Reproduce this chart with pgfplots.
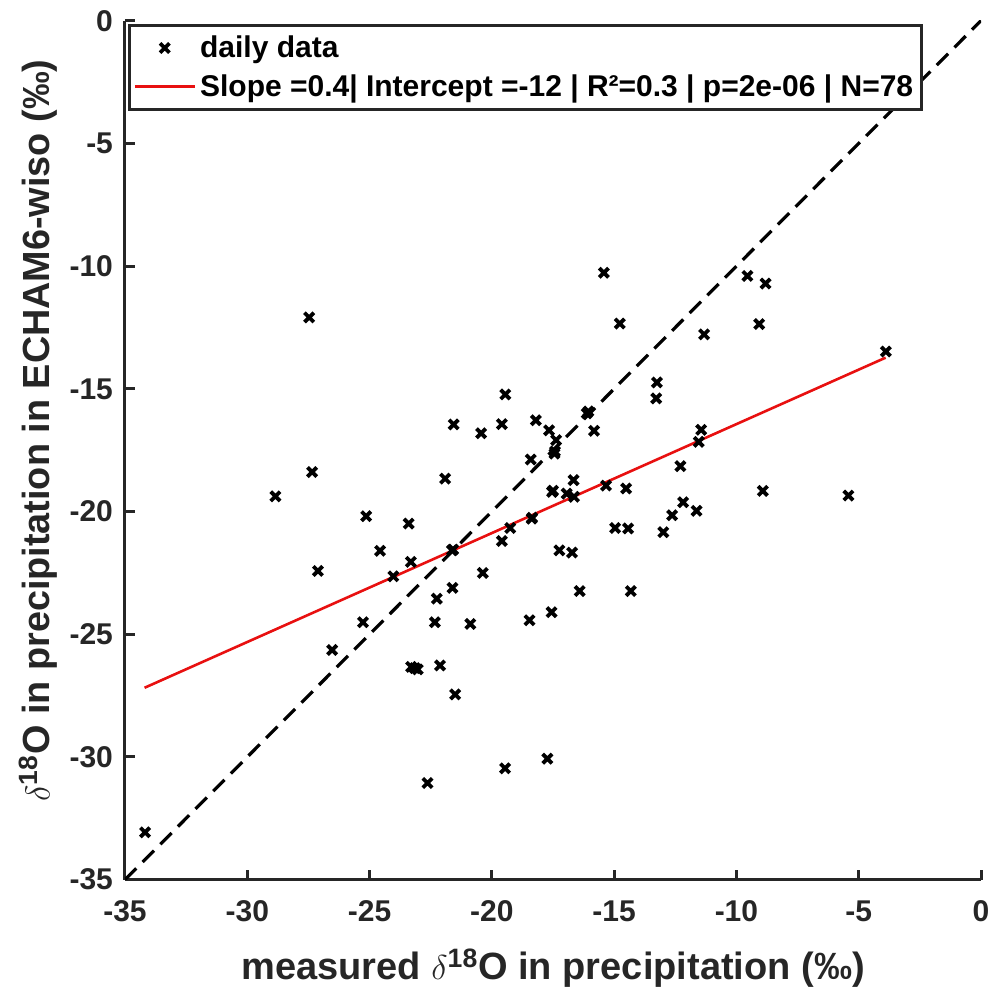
\documentclass[border=0pt]{standalone}
\usepackage{pgfplots}
\pgfplotsset{compat=1.18}
\usepackage{fontspec}
\setmainfont{Liberation Sans}
\definecolor{mgray}{RGB}{38,38,38}
\definecolor{mred}{RGB}{232,16,16}

\pgfplotstableread{
x y
-27.47 -12.09
-19.45 -15.23
-21.56 -16.45
-20.44 -16.81
-19.59 -16.44
-18.20 -16.28
-17.66 -16.69
-17.37 -17.09
-17.44 -17.64
-18.41 -17.88
-27.35 -18.39
-21.91 -18.66
-28.85 -19.38
-17.54 -19.20
-16.94 -19.27
-25.14 -20.19
-23.40 -20.49
-18.37 -20.29
-19.25 -20.67
-19.59 -21.20
-24.57 -21.60
-21.63 -21.58
-17.24 -21.58
-23.31 -22.05
-27.11 -22.42
-24.03 -22.64
-20.37 -22.50
-21.61 -23.11
-22.25 -23.55
-25.27 -24.51
-22.33 -24.51
-20.88 -24.58
-18.46 -24.43
-17.56 -24.10
-26.53 -25.64
-23.30 -26.33
-23.03 -26.43
-22.12 -26.27
-21.50 -27.45
-22.63 -31.06
-19.46 -30.46
-17.73 -30.07
-34.18 -33.07
-13.25 -14.74
-13.28 -15.39
-16.12 -16.00
-15.82 -16.71
-11.44 -16.67
-11.54 -17.16
-12.29 -18.15
-16.66 -18.72
-16.64 -19.40
-15.33 -18.94
-14.51 -19.06
-12.18 -19.62
-12.63 -20.15
-11.63 -19.97
-12.99 -20.84
-14.96 -20.67
-14.43 -20.69
-16.72 -21.67
-16.41 -23.24
-14.32 -23.24
-15.42 -10.27
-9.55 -10.40
-8.81 -10.71
-14.77 -12.34
-9.07 -12.36
-11.32 -12.78
-3.89 -13.48
-8.92 -19.16
-5.42 -19.35
-16.05 -15.92
-17.42 -17.55
-18.35 -20.25
-23.15 -26.38
-17.50 -19.15
-21.58 -21.55
}\dailydata

\begin{document}
\begin{tikzpicture}
\begin{axis}[
  scale only axis,
  width=428pt, height=429.5pt,
  xmin=-35, xmax=0, ymin=-35, ymax=0,
  axis lines=left,
  axis line style={-, line width=1.5pt, draw=mgray},
  xtick={-35,-30,...,0}, ytick={-35,-30,...,0},
  tick align=inside,
  major tick length=5pt,
  tick style={line width=1.5pt, draw=mgray},
  /pgf/number format/assume math mode=true,
  ticklabel style={font=\fontsize{15}{18}\selectfont\bfseries, text=mgray},
  xticklabel style={yshift=-7pt},
  yticklabel style={xshift=-2.5pt},
  xlabel={measured $\delta$\textsuperscript{18}O in precipitation (‰)},
  ylabel={$\delta$\textsuperscript{18}O in precipitation in ECHAM6-wiso (‰)},
  xlabel style={at={(axis description cs:0.5,-0.1164)}, anchor=base, font=\fontsize{19}{22}\selectfont\bfseries, text=mgray},
  ylabel style={at={(axis description cs:-0.0880,0.523)}, anchor=base, font=\fontsize{18.9}{22}\selectfont\bfseries, text=mgray},
  legend style={at={(axis description cs:0.0035,0.996)}, anchor=north west,
    draw=mgray, line width=1.5pt, fill=white,
    font=\fontsize{15}{18}\selectfont\bfseries,
    inner xsep=2pt, inner ysep=3pt, row sep=3pt,
    cells={anchor=west}},
  legend image code/.code={\draw[mark repeat=2,mark phase=2,#1] plot coordinates {(0pt,0pt) (15pt,0pt) (30pt,0pt)};},
  clip=true,
]
\addplot[black, line width=1.6pt, dash pattern=on 8pt off 4.5pt, forget plot] coordinates {(-35,-35) (0,0)};
\addplot[only marks, mark=x, mark size=3.3pt, black, mark options={line width=1.9pt}] table {\dailydata};
\addlegendentry{daily data}
\addplot[mred, line width=1.3pt, mark=none] coordinates {(-34.2,-27.18) (-3.9,-13.73)};
\addlegendentry{Slope =0.4| Intercept =-12 | R²=0.3 | p=2e-06 | N=78}
\coordinate (sw) at (rel axis cs:0,0);
\coordinate (ne) at (rel axis cs:1,1);
\end{axis}
\pgfresetboundingbox
\path[use as bounding box] ([xshift=-62.5pt,yshift=-57pt]sw) rectangle ([xshift=7pt,yshift=10.35pt]ne);
\end{tikzpicture}
\end{document}
